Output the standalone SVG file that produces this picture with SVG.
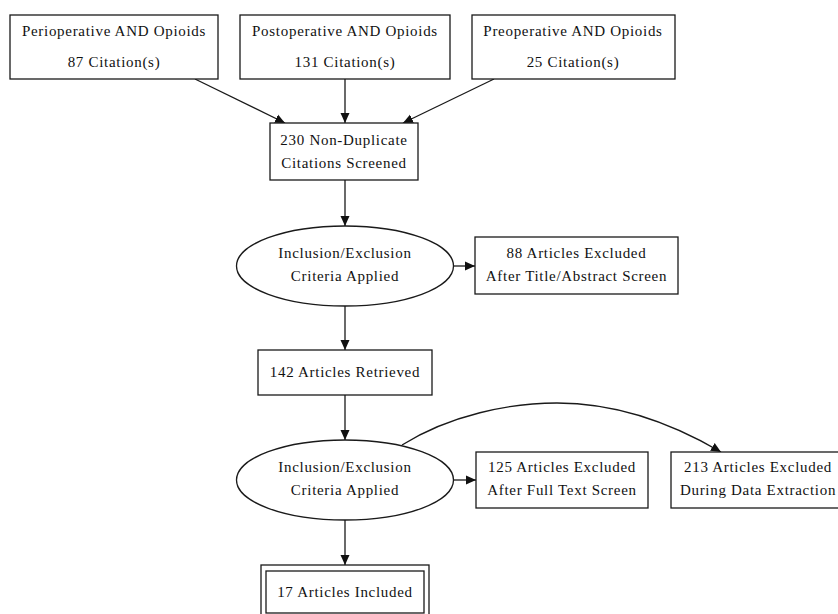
<svg xmlns="http://www.w3.org/2000/svg" width="838" height="614" viewBox="0 0 838 614">
<defs>
<style>
.n{fill:#fff;stroke:#1a1a1a;stroke-width:1.3}
.t{font-family:"Liberation Serif","Times New Roman",serif;font-size:15px;letter-spacing:0.7px;fill:#111;text-anchor:middle}
.e{fill:none;stroke:#1a1a1a;stroke-width:1.3}
</style>
<marker id="ah" viewBox="0 0 10 10" refX="10" refY="5" markerWidth="10" markerHeight="10" markerUnits="userSpaceOnUse" orient="auto">
<path d="M0,0.5 L10,5 L0,9.5 z" fill="#111"/>
</marker>
</defs>
<rect width="838" height="614" fill="#fff"/>
<g id="connectors">
<path class="e" d="M195,79 L285,123" marker-end="url(#ah)"/>
<path class="e" d="M345,79 L345,123" marker-end="url(#ah)"/>
<path class="e" d="M494,79 L403,123" marker-end="url(#ah)"/>
<path class="e" d="M345,180 L345,226" marker-end="url(#ah)"/>
<path class="e" d="M453,266 L475,266" marker-end="url(#ah)"/>
<path class="e" d="M345,306 L345,350" marker-end="url(#ah)"/>
<path class="e" d="M345,395 L345,440" marker-end="url(#ah)"/>
<path class="e" d="M453,480 L476,480" marker-end="url(#ah)"/>
<path class="e" d="M402,445 C450,415 510,403 557,403 C620,403 675,425 721,452" marker-end="url(#ah)"/>
<path class="e" d="M345,520 L345,565" marker-end="url(#ah)"/>
</g>
<g id="peri">
<rect class="n" x="10" y="15" width="208" height="64"/>
<text class="t" x="114" y="36">Perioperative AND Opioids</text>
<text class="t" x="114" y="67">87 Citation(s)</text>
</g>
<g id="post">
<rect class="n" x="240" y="15" width="210" height="64"/>
<text class="t" x="345" y="36">Postoperative AND Opioids</text>
<text class="t" x="345" y="67">131 Citation(s)</text>
</g>
<g id="pre">
<rect class="n" x="472" y="15" width="203" height="64"/>
<text class="t" x="573" y="36">Preoperative AND Opioids</text>
<text class="t" x="573" y="67">25 Citation(s)</text>
</g>
<g id="screened">
<rect class="n" x="270" y="123" width="148" height="57"/>
<text class="t" x="344" y="144.5">230 Non-Duplicate</text>
<text class="t" x="344" y="167.5">Citations Screened</text>
</g>
<g id="criteria1">
<ellipse class="n" cx="345" cy="266" rx="108.5" ry="40"/>
<text class="t" x="345" y="258">Inclusion/Exclusion</text>
<text class="t" x="345" y="281">Criteria Applied</text>
</g>
<g id="excl88">
<rect class="n" x="475" y="237" width="203" height="57"/>
<text class="t" x="576.5" y="258">88 Articles Excluded</text>
<text class="t" x="576.5" y="281">After Title/Abstract Screen</text>
</g>
<g id="retrieved">
<rect class="n" x="258" y="350" width="174" height="45"/>
<text class="t" x="345" y="377">142 Articles Retrieved</text>
</g>
<g id="criteria2">
<ellipse class="n" cx="345" cy="480" rx="108.5" ry="40"/>
<text class="t" x="345" y="472">Inclusion/Exclusion</text>
<text class="t" x="345" y="495">Criteria Applied</text>
</g>
<g id="excl125">
<rect class="n" x="476" y="452" width="172" height="56"/>
<text class="t" x="562" y="472">125 Articles Excluded</text>
<text class="t" x="562" y="495">After Full Text Screen</text>
</g>
<g id="excl213">
<rect class="n" x="671" y="452" width="174" height="56"/>
<text class="t" x="758" y="472">213 Articles Excluded</text>
<text class="t" x="758" y="495">During Data Extraction</text>
</g>
<g id="included">
<rect class="n" x="261" y="565" width="168" height="54"/>
<rect class="n" x="266" y="571" width="158" height="42"/>
<text class="t" x="345" y="597">17 Articles Included</text>
</g>
</svg>
